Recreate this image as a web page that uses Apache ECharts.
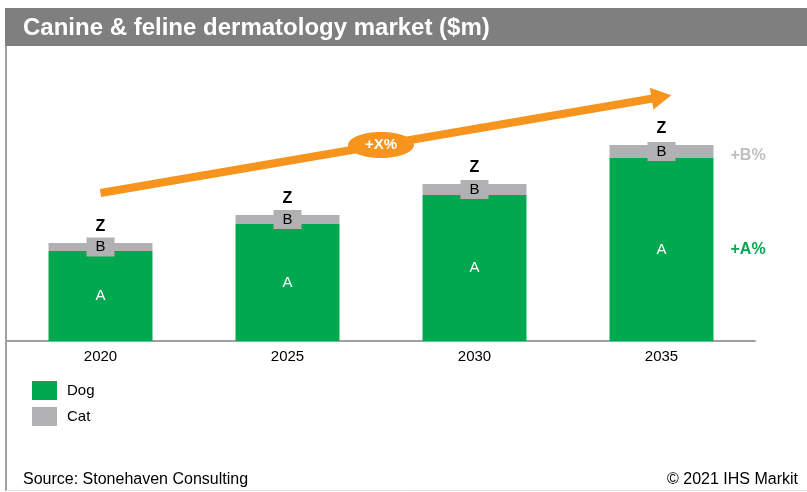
<!DOCTYPE html>
<html>
<head>
<meta charset="utf-8">
<script src="https://cdn.jsdelivr.net/npm/echarts@6/dist/echarts.min.js"></script>
<style>
  html, body { margin: 0; padding: 0; background: #fff; }
  #chart { width: 807px; height: 492px; }
</style>
</head>
<body>
<div id="chart"></div>
<script>
var years = ['2020', '2025', '2030', '2035'];
var dog = [90, 117, 146, 183];
var cat = [8, 9, 11, 13];
var topLabels = ['Z', 'Z', 'Z', 'Z'];
var arrowFrom = 148, arrowTo = 244;   // trend arrow, in value units
var growthLabel = '+X%';
var dogGrowth = '+A%', catGrowth = '+B%';

var green = '#00a84f';
var grey = '#b1b1b3';
var orange = '#f7941d';
var font = 'Liberation Sans, Arial, sans-serif';
var headBack = 0.053;   // pull line end back so the arrow tip lands on the last category

var myChart = echarts.init(document.getElementById('chart'));
var last = years.length - 1;

var option = {
    animation: false,
    textStyle: { fontFamily: font },
    grid: { left: 7, right: 52, top: 61, bottom: 151 },
    legend: {
        data: ['Dog', 'Cat'],
        orient: 'vertical',
        left: 32,
        top: 381,
        padding: 0,
        icon: 'rect',
        itemWidth: 25,
        itemHeight: 19,
        itemGap: 7,
        selectedMode: false,
        textStyle: { fontSize: 15, color: '#000', padding: [0, 0, 0, 5] }
    },
    xAxis: {
        type: 'category',
        data: years,
        axisLine: { lineStyle: { color: '#a0a0a0', width: 2 } },
        axisTick: { show: false },
        axisLabel: { color: '#000', fontSize: 15, margin: 8 }
    },
    yAxis: {
        type: 'value',
        min: 0,
        max: 280,
        show: false,
        splitLine: { show: false }
    },
    series: [{
        name: 'Dog',
        type: 'bar',
        stack: 'total',
        barWidth: '55.6%',
        data: dog,
        itemStyle: { color: green },
        label: {
            show: true,
            position: 'inside',
            formatter: 'A',
            color: '#fff',
            fontSize: 15
        },
        markLine: {
            silent: true,
            symbol: ['none', 'triangle'],
            symbolSize: [22, 20],
            label: { show: false },
            lineStyle: { color: orange, width: 8, type: 'solid' },
            emphasis: { disabled: true },
            data: [[
                { coord: [0, arrowFrom] },
                { coord: [last - headBack, arrowTo] }
            ]]
        }
    }, {
        name: 'Cat',
        type: 'bar',
        stack: 'total',
        data: cat,
        itemStyle: { color: grey },
        label: {
            show: true,
            position: 'inside',
            formatter: 'B',
            color: '#000',
            fontSize: 15,
            backgroundColor: grey,
            padding: [2, 9, 2, 9]
        }
    }, {
        name: 'Total',
        type: 'bar',
        stack: 'total',
        data: topLabels.map(function () { return 0; }),
        itemStyle: { color: 'transparent' },
        label: {
            show: true,
            position: 'top',
            distance: 8,
            formatter: function (p) { return topLabels[p.dataIndex]; },
            color: '#000',
            fontSize: 16,
            fontWeight: 'bold'
        }
    }]
};
myChart.setOption(option);

// annotations placed from the data scale
var midA = myChart.convertToPixel({ seriesIndex: 0 }, [0, arrowFrom]);
var midB = myChart.convertToPixel({ seriesIndex: 0 }, [last, arrowTo]);
var ellX = (midA[0] + midB[0]) / 2, ellY = (midA[1] + midB[1]) / 2;
var dogMid = myChart.convertToPixel({ seriesIndex: 0 }, [last, dog[last] / 2]);
var catMid = myChart.convertToPixel({ seriesIndex: 0 }, [last, dog[last] + cat[last] / 2]);
var rightX = dogMid[0] + 69;

myChart.setOption({
    graphic: [
        { type: 'rect', shape: { x: 5, y: 8, width: 802, height: 38 }, style: { fill: '#7f7f7f' }, z: 100 },
        { type: 'text', x: 23, y: 28, style: { text: 'Canine & feline dermatology market ($m)', fill: '#fff', font: 'bold 24px ' + font, textVerticalAlign: 'middle' }, z: 101 },
        { type: 'line', shape: { x1: 6, y1: 46, x2: 6, y2: 491 }, style: { stroke: '#a0a0a0', lineWidth: 2 }, z: 100 },
        { type: 'line', shape: { x1: 6, y1: 490.5, x2: 807, y2: 490.5 }, style: { stroke: '#e0e0e0', lineWidth: 1 }, z: 100 },
        { type: 'text', x: 23, y: 480, style: { text: 'Source: Stonehaven Consulting', fill: '#000', font: '16px ' + font, textVerticalAlign: 'middle' }, z: 100 },
        { type: 'text', x: 798, y: 480, style: { text: '\u00a9 2021 IHS Markit', fill: '#000', font: '16px ' + font, textAlign: 'right', textVerticalAlign: 'middle' }, z: 100 },
        { type: 'ellipse', shape: { cx: ellX, cy: ellY, rx: 33, ry: 13 }, style: { fill: orange }, z: 100 },
        { type: 'text', x: ellX, y: ellY, style: { text: growthLabel, fill: '#fff', font: 'bold 15px ' + font, textAlign: 'center', textVerticalAlign: 'middle' }, z: 101 },
        { type: 'text', x: rightX, y: catMid[1] + 4, style: { text: catGrowth, fill: '#bfbfbf', font: 'bold 16px ' + font, textVerticalAlign: 'middle' }, z: 100 },
        { type: 'text', x: rightX, y: dogMid[1], style: { text: dogGrowth, fill: green, font: 'bold 16px ' + font, textVerticalAlign: 'middle' }, z: 100 }
    ]
});
window.onresize = myChart.resize;
</script>
</body>
</html>
